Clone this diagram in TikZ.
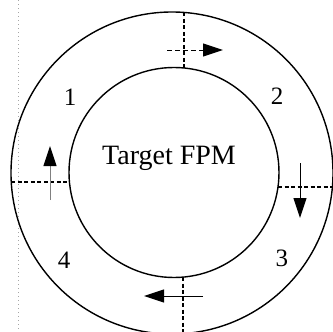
\documentclass[tikz,border=0pt]{standalone}
\usepackage{fontspec}
\setmainfont{Liberation Serif}
\usetikzlibrary{arrows.meta}
\begin{document}
\begin{tikzpicture}[x=1pt,y=-1pt,
  ring/.style={line width=1.4pt},
  sector/.style={line width=1.1pt,dash pattern=on 4pt off 2.5pt},
  flow/.style={line width=1pt,-{Triangle[length=20pt,width=13pt,color=black]}},
  num/.style={font=\fontsize{25}{27}\selectfont},
  scanline/.style={gray!70,line width=0.7pt,dash pattern=on 1pt off 3pt}]
\useasboundingbox (0,0) rectangle (333,332);
\clip (0,0) rectangle (333,332);
% scan margin
\draw[scanline] (18,0) -- (18,332);
% rings
\coordinate (oc) at (172,173);
\coordinate (ic) at (174,172.5);
\draw[ring] (oc) circle[radius=161];
\draw[ring] (ic) circle[radius=105];
% sector boundaries
\coordinate (t1) at (184,12.4);  \coordinate (t2) at (184,68);
\coordinate (b1) at (183,277);   \coordinate (b2) at (183,334);
\coordinate (l1) at (11.3,182);  \coordinate (l2) at (69.4,182);
\coordinate (r1) at (278,187);   \coordinate (r2) at (334,187);
\draw[sector] (t1) -- (t2);
\draw[sector] (b1) -- (b2);
\draw[sector] (l1) -- (l2);
\draw[sector] (r1) -- (r2);
% flow arrows
\coordinate (ta) at (167,50);  \coordinate (tb) at (223,50);
\coordinate (ra) at (300,163); \coordinate (rb) at (300,218);
\coordinate (ba) at (203,296); \coordinate (bb) at (144,296);
\coordinate (la) at (50,200);  \coordinate (lb) at (50,146);
\draw[flow,dash pattern=on 5pt off 3pt] (ta) -- (tb);
\draw[flow] (ra) -- (rb);
\draw[flow] (ba) -- (bb);
\draw[flow,draw=gray] (la) -- (lb);
% labels
\node[font=\fontsize{28}{30}\selectfont] (tgt) at (169,158) {Target FPM};
\node[num] (n1) at (70,97) {1};
\node[num] (n2) at (277,96) {2};
\node[num] (n3) at (282,258) {3};
\node[num] (n4) at (64,260) {4};
\end{tikzpicture}
\end{document}
